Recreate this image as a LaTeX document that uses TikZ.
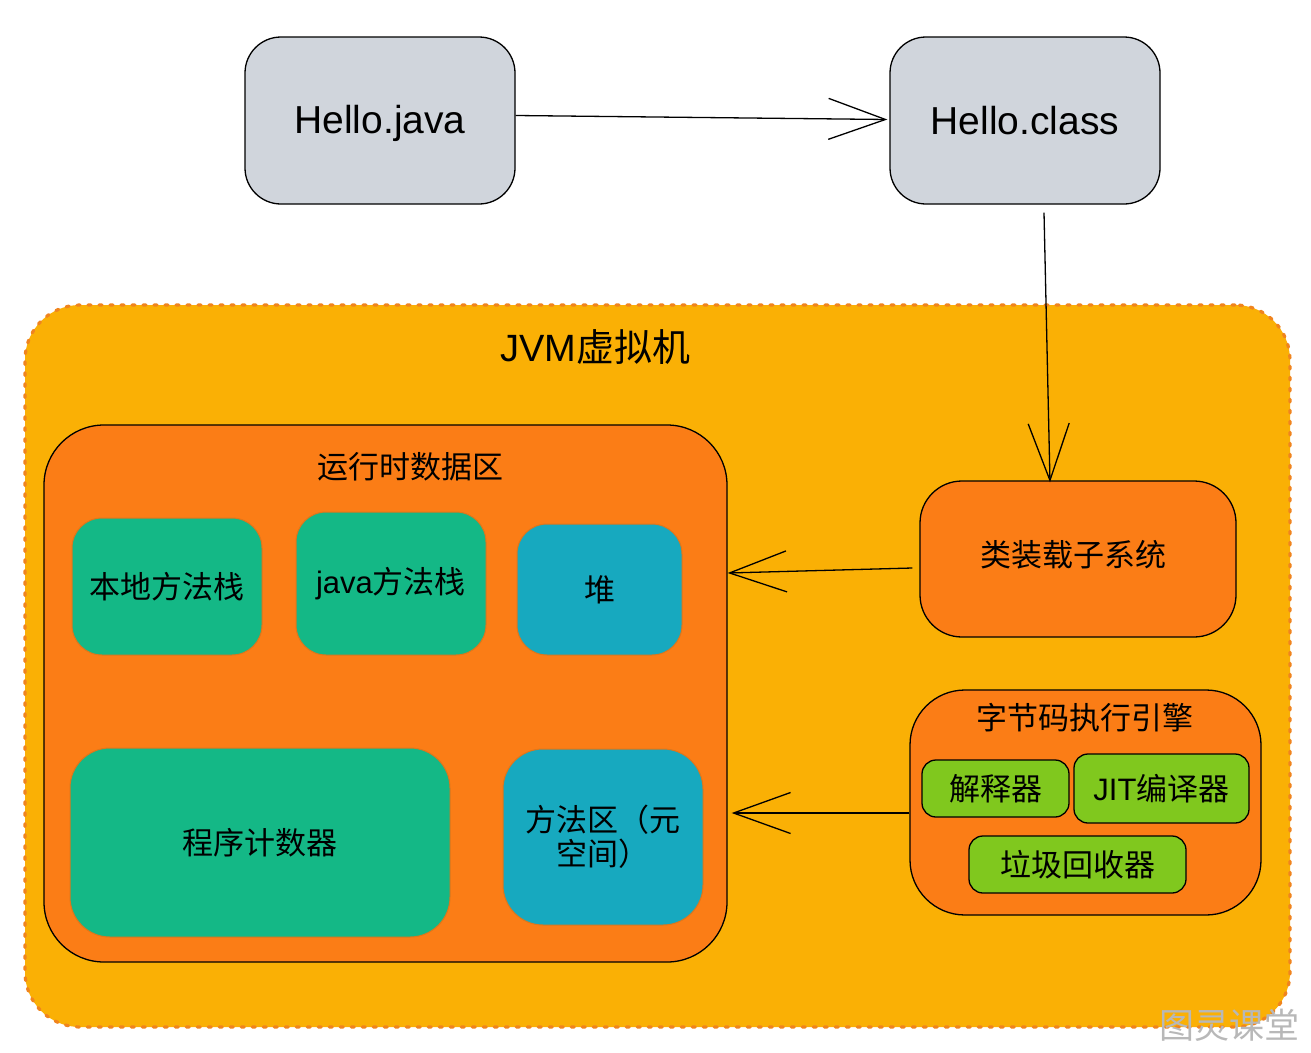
\documentclass[tikz,border=0pt]{standalone}
\usepackage{fontspec}
\setmainfont{Liberation Sans}
\newfontfamily\cjk{Noto Sans CJK SC}
\usetikzlibrary{arrows.meta}
\definecolor{jvmfill}{HTML}{FAB005}
\definecolor{jvmdash}{HTML}{F0841E}
\definecolor{orfill}{HTML}{FB7D16}
\definecolor{grfill}{HTML}{14B886}
\definecolor{tealfill}{HTML}{17A9BF}
\definecolor{limefill}{HTML}{80C81E}
\definecolor{greyfill}{HTML}{D0D5DC}
\definecolor{softedge}{HTML}{E0761A}
\tikzset{
  filebox/.style={draw=black, line width=1.3pt, fill=greyfill, rounded corners=36pt, font=\fontsize{39}{44}\selectfont},
  orbox/.style={draw=black, line width=1.3pt, fill=orfill},
  membox/.style={draw=softedge, line width=1pt, rounded corners=30pt, font=\cjk\fontsize{31}{36}\selectfont, align=center},
  limebox/.style={draw=black, line width=1.3pt, fill=limefill, rounded corners=14pt, font=\cjk\fontsize{31}{36}\selectfont},
  title/.style={font=\cjk\fontsize{31}{36}\selectfont, inner sep=0pt},
  conn/.style={draw=black, line width=1.3pt, -{Straight Barb[length=57pt,width=41pt,line width=1.3pt]}}
}
\begin{document}
\begin{tikzpicture}[x=1pt,y=-1pt]
\useasboundingbox (0,0) rectangle (1311,1052);
\fill[white] (0,0) rectangle (1311,1052);

% JVM container
\node[draw=jvmdash, fill=jvmfill, line width=3.2pt, dash pattern=on 3pt off 8pt, line cap=round, rounded corners=55pt, minimum width=1265pt, minimum height=722pt, inner sep=0pt] (jvm) at (657.5,666) {};
\node[font=\fontsize{38}{44}\selectfont, inner sep=0pt] (jvmt) at (595,347) {JVM{\cjk 虚拟机}};

% file boxes
\node[filebox, minimum width=270pt, minimum height=167pt] (hj) at (380,120.5) {};
\node[font=\fontsize{39}{44}\selectfont, inner sep=0pt] (hjt) at (380,123) {Hello.java};
\node[filebox, minimum width=270pt, minimum height=167pt] (hc) at (1025,120.5) {};
\node[font=\fontsize{39}{44}\selectfont, inner sep=0pt] (hct) at (1025,121) {Hello.class};

% runtime data area
\node[orbox, rounded corners=60pt, minimum width=683pt, minimum height=537pt, inner sep=0pt] (rt) at (385.5,693.5) {};
\node[title] (rtt) at (410,467) {运行时数据区};

\node[membox, fill=grfill, minimum width=190pt, minimum height=137pt] (nms) at (167,586.5) {本地方法栈};
\node[membox, fill=grfill, minimum width=190pt, minimum height=143pt, font=\fontsize{31}{36}\selectfont] (jms) at (391,583.5) {java{\cjk 方法栈}};
\node[membox, fill=tealfill, minimum width=165pt, minimum height=131pt] (heap) at (599.5,589.5) {堆};
\node[membox, fill=grfill, rounded corners=40pt, minimum width=380pt, minimum height=189pt] (pc) at (260,842.5) {程序计数器};
\node[membox, fill=tealfill, rounded corners=40pt, minimum width=200pt, minimum height=176pt, text width=190pt] (ma) at (603,837) {方法区（元\\[-2pt]空间）};

% class loader
\node[orbox, rounded corners=42pt, minimum width=316pt, minimum height=156pt] (cl) at (1078,559) {};
\node[title] (clt) at (1073,555) {类装载子系统};

% execution engine
\node[orbox, rounded corners=55pt, minimum width=351pt, minimum height=225pt, inner sep=0pt] (bc) at (1085.5,802.5) {};
\node[title] (bct) at (1085,718) {字节码执行引擎};
\node[limebox, minimum width=147pt, minimum height=57pt, inner sep=0pt] (interp) at (995.5,788.5) {解释器};
\node[limebox, minimum width=175pt, minimum height=69pt, inner sep=0pt, font=\fontsize{31}{36}\selectfont] (jit) at (1161.5,788.5) {JIT{\cjk 编译器}};
\node[limebox, minimum width=217pt, minimum height=57pt, inner sep=0pt] (gc) at (1077.5,864.5) {垃圾回收器};

% connectors
\draw[conn] ([yshift=5pt]hj.east) -- ([xshift=-2pt,yshift=1pt]hc.west);
\draw[conn] ([xshift=19pt,yshift=-8pt]hc.south) -- ([xshift=-28pt,yshift=-2pt]cl.north);
\draw[conn] ([xshift=-7pt,yshift=-9pt]cl.west) -- ([yshift=120.5pt]rt.east);
\draw[conn] ([yshift=-10.5pt]bc.west) -- ([xshift=4pt,yshift=-119.5pt]rt.east);

% watermark
\node[font=\cjk\fontsize{35}{40}\selectfont, text=black!28, inner sep=0pt] (wm) at (1229,1025) {图灵课堂};
\end{tikzpicture}
\end{document}
